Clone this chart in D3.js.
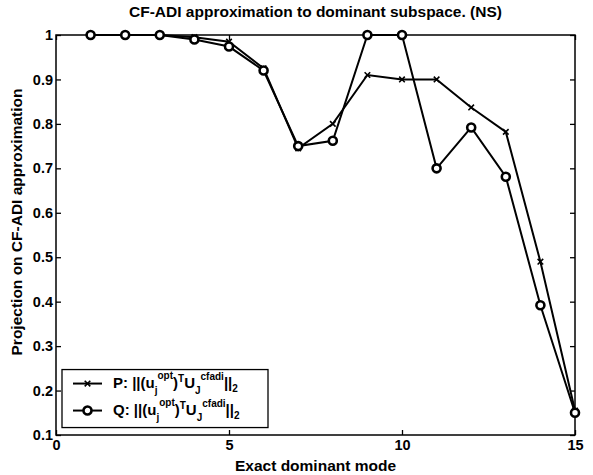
<!DOCTYPE html>
<html lang="en">
<head>
	<meta charset="utf-8">
	<title>CF-ADI approximation</title>
	<script src="https://d3js.org/d3.v7.min.js"></script>
	<style type="text/css">
		body { margin: 0; background: #fff; }
		text { font-family: "Liberation Sans", Arial, sans-serif; font-weight: bold; fill: #000; }
	</style>
</head>
<body>
	<svg id="chart" width="593" height="475"></svg>

	<script type="text/javascript">
	// data
	var modes = [1, 2, 3, 4, 5, 6, 7, 8, 9, 10, 11, 12, 13, 14, 15]
	var pValues = [1, 1, 1, 0.995, 0.985, 0.925, 0.745, 0.80, 0.91, 0.90, 0.90, 0.837, 0.782, 0.49, 0.155]
	var qValues = [1, 1, 1, 0.99, 0.974, 0.92, 0.75, 0.762, 1, 1, 0.70, 0.792, 0.681, 0.392, 0.15]
	var xTicks = [0, 5, 10, 15]
	var yTicks = [0.1, 0.2, 0.3, 0.4, 0.5, 0.6, 0.7, 0.8, 0.9, 1]

	var margin = {top: 35, right: 18, bottom: 40, left: 56}
	var W = 593, H = 475
	var width = W - margin.left - margin.right
	var height = H - margin.top - margin.bottom

	var svg = d3.select("#chart")
	var g = svg.append("g").attr("transform", "translate(" + margin.left + "," + margin.top + ")")

	var x = d3.scaleLinear().domain([0, 15]).range([0, width])
	var y = d3.scaleLinear().domain([0.1, 1]).range([height, 0])

	// axes (matlab style box, ticks inward)
	function styleAxis(sel) {
		sel.select(".domain").remove()
		sel.selectAll("line").attr("stroke", "#000").attr("stroke-width", 1.3)
		sel.selectAll("text").style("font-size", "14.5px").attr("fill", "#000")
	}
	g.append("g").attr("transform", "translate(0," + height + ")")
		.call(d3.axisBottom(x).tickValues(xTicks).tickSize(-5).tickPadding(5).tickFormat(d3.format("d")))
		.call(styleAxis)
	g.append("g")
		.call(d3.axisTop(x).tickValues(xTicks).tickSize(-5).tickFormat(""))
		.call(styleAxis)
	g.append("g")
		.call(d3.axisLeft(y).tickValues(yTicks).tickSize(-5).tickPadding(3).tickFormat(d => d == 1 ? "1" : d3.format(".1f")(d)))
		.call(styleAxis)
	g.append("g").attr("transform", "translate(" + width + ",0)")
		.call(d3.axisRight(y).tickValues(yTicks).tickSize(-5).tickFormat(""))
		.call(styleAxis)

	g.append("rect")
		.attr("width", width).attr("height", height)
		.attr("fill", "none").attr("stroke", "#000").attr("stroke-width", 1.5)

	// series
	var line = d3.line().x((d, i) => x(modes[i])).y(d => y(d))

	g.append("path").datum(pValues)
		.attr("d", line).attr("fill", "none").attr("stroke", "#000").attr("stroke-width", 2)
	g.append("path").datum(qValues)
		.attr("d", line).attr("fill", "none").attr("stroke", "#000").attr("stroke-width", 2)

	// P markers: small x
	g.append("g").selectAll("path").data(pValues).enter().append("path")
		.attr("d", d3.symbol().type(d3.symbolX).size(22))
		.attr("transform", (d, i) => "translate(" + x(modes[i]) + "," + y(d) + ")")
		.attr("stroke", "#000").attr("stroke-width", 1.6).attr("fill", "none")

	// Q markers: open circles with heavy stroke
	g.append("g").selectAll("circle").data(qValues).enter().append("circle")
		.attr("cx", (d, i) => x(modes[i]))
		.attr("cy", d => y(d))
		.attr("r", 4)
		.attr("fill", "#fff").attr("stroke", "#000").attr("stroke-width", 2.6)

	// legend
	var leg = g.append("g").attr("transform", "translate(" + 6 + "," + (y(0.2) - 21) + ")")
	leg.append("rect").attr("width", 206).attr("height", 58)
		.attr("fill", "#fff").attr("stroke", "#000").attr("stroke-width", 1.3)

	function legendRow(yy, label, marker) {
		var row = leg.append("g").attr("transform", "translate(0," + yy + ")")
		row.append("line").attr("x1", 11).attr("x2", 40).attr("stroke", "#000").attr("stroke-width", 2)
		if (marker == "x") {
			row.append("path").attr("d", d3.symbol().type(d3.symbolX).size(22))
				.attr("transform", "translate(25.5,0)").attr("stroke", "#000").attr("stroke-width", 1.6)
		} else {
			row.append("circle").attr("cx", 25.5).attr("r", 4)
				.attr("fill", "#fff").attr("stroke", "#000").attr("stroke-width", 2.6)
		}
		var t = row.append("text").attr("x", 51).attr("y", 4).style("font-size", "15px")
		t.append("tspan").text(label + ": ||(u")
		t.append("tspan").attr("dy", 6).style("font-size", "10px").text("j")
		t.append("tspan").attr("dy", -15).style("font-size", "10px").text("opt")
		t.append("tspan").attr("dy", 9).text(")")
		t.append("tspan").attr("dy", -6).style("font-size", "10px").text("T")
		t.append("tspan").attr("dy", 6).text("U")
		t.append("tspan").attr("dy", 6).style("font-size", "10px").text("J")
		t.append("tspan").attr("dy", -14).style("font-size", "10px").text("cfadi")
		t.append("tspan").attr("dy", 8).text("||")
		t.append("tspan").attr("dy", 4).style("font-size", "10px").text("2")
	}
	legendRow(14, "P", "x")
	legendRow(41, "Q", "o")

	// titles
	svg.append("text").attr("x", margin.left + width / 2).attr("y", 17)
		.attr("text-anchor", "middle").style("font-size", "15.5px")
		.text("CF-ADI approximation to dominant subspace. (NS)")
	svg.append("text").attr("x", margin.left + width / 2).attr("y", 471)
		.attr("text-anchor", "middle").style("font-size", "15.5px")
		.text("Exact dominant mode")
	svg.append("text").attr("transform", "translate(22," + 222 + ") rotate(-90)")
		.attr("text-anchor", "middle").style("font-size", "15.5px")
		.text("Projection on CF-ADI approximation")
	</script>
</body>
</html>
